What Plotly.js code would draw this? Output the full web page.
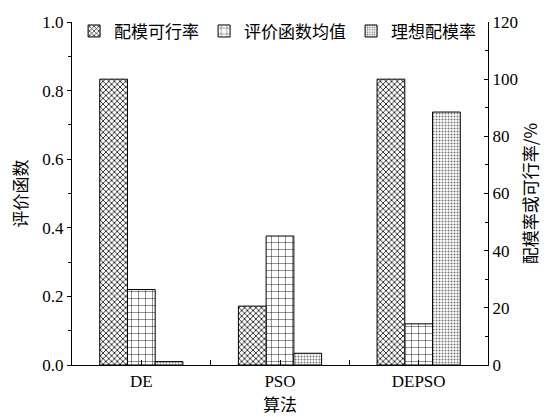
<!DOCTYPE html>
<html>
<head>
<meta charset="utf-8">
<script src="https://cdn.plot.ly/plotly-3.0.1.min.js"></script>
<style>html,body{margin:0;padding:0;background:#fff;}#chart{width:550px;height:417px;}</style>
</head>
<body>
<div id="chart"></div>
<script>
const categories = ["DE", "PSO", "DEPSO"];
const feasibleRate = [100, 20.6, 100];        // 配模可行率 (%) right axis
const evalMean = [0.22, 0.376, 0.12];          // 评价函数均值 left axis
const idealRate = [1.2, 4.1, 88.5];            // 理想配模率 (%) right axis
const seriesNames = ["配模可行率", "评价函数均值", "理想配模率"];

const xIdx = categories.map((c, i) => i);
const FONT = "Liberation Serif, Times New Roman, Noto Sans CJK SC, serif";
const CJK = "Noto Sans CJK SC, Liberation Serif, serif";

const line = {color: "#000", width: 1};
const traces = [
  {type: "bar", name: seriesNames[0], x: xIdx, y: feasibleRate, yaxis: "y2",
   width: 0.2, offset: -0.3,
   marker: {color: "#fff", line: line, pattern: {shape: "x", size: 4, solidity: 0.35, fgcolor: "#000", bgcolor: "#fff"}}},
  {type: "bar", name: seriesNames[1], x: xIdx, y: evalMean, yaxis: "y",
   width: 0.2, offset: -0.1,
   marker: {color: "#fff", line: line, pattern: {shape: "+", size: 7, solidity: 0.12, fgcolor: "#000", bgcolor: "#fff"}}},
  {type: "bar", name: seriesNames[2], x: xIdx, y: idealRate, yaxis: "y2",
   width: 0.2, offset: 0.1,
   marker: {color: "#fff", line: line, pattern: {shape: ".", size: 3, solidity: 0.35, fgcolor: "#777", bgcolor: "#fff"}}}
];

const layout = {
  width: 550, height: 417,
  margin: {l: 72, r: 62, t: 22, b: 52},
  paper_bgcolor: "#fff", plot_bgcolor: "#fff",
  showlegend: true,
  legend: {orientation: "h", x: 0.005, y: 1.025, xanchor: "left", yanchor: "top",
           font: {family: CJK, size: 17, color: "#000"}, bgcolor: "rgba(0,0,0,0)",
           itemwidth: 30, traceorder: "normal"},
  font: {family: FONT, color: "#000"},
  xaxis: {range: [-0.5, 2.5], tickmode: "array", tickvals: xIdx, ticktext: categories,
          showline: true, linecolor: "#000", linewidth: 1.2, ticks: "inside", ticklen: 5,
          tickcolor: "#000", showgrid: false, zeroline: false,
          tickfont: {family: FONT, size: 17},
          minor: {tickmode: "array", tickvals: [0.5, 1.5], ticks: "inside", ticklen: 5, tickcolor: "#000", showgrid: false},
          title: {text: "算法", font: {family: CJK, size: 17}, standoff: 5}},
  yaxis: {range: [0, 1.0], dtick: 0.2, tickformat: ".1f", showline: true, linecolor: "#000", linewidth: 1.2,
          ticks: "outside", ticklen: 4, tickcolor: "#000", showgrid: false, zeroline: false,
          tickfont: {family: FONT, size: 17},
          minor: {dtick: 0.1, ticks: "outside", ticklen: 3, tickcolor: "#000", showgrid: false},
          title: {text: "评价函数", font: {family: CJK, size: 17}, standoff: 10}},
  yaxis2: {range: [0, 120], dtick: 20, overlaying: "y", side: "right", showline: true, linecolor: "#000", linewidth: 1.2,
          ticks: "inside", ticklen: 4, tickcolor: "#000", showgrid: false, zeroline: false,
          tickfont: {family: FONT, size: 17},
          minor: {dtick: 10, ticks: "inside", ticklen: 3, tickcolor: "#000", showgrid: false},
          title: {text: "配模率或可行率/%", font: {family: CJK, size: 17}, standoff: 8}}
};

Plotly.newPlot("chart", traces, layout, {displayModeBar: false, staticPlot: true});
</script>
</body>
</html>
